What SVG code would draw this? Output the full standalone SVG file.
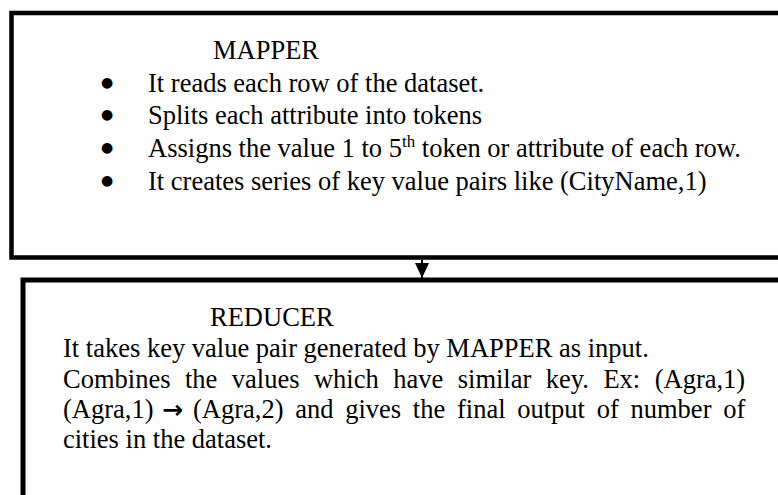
<svg xmlns="http://www.w3.org/2000/svg" width="778" height="495" viewBox="0 0 778 495">
  <style>
    .box { fill: #ffffff; stroke: #000000; }
    .t { font-family: "Liberation Serif", "Times New Roman", serif; font-size: 26.5px; fill: #000000; }
    .bul { font-family: "DejaVu Sans", sans-serif; font-size: 14px; fill: #000000; }
    .arr { font-family: "DejaVu Sans", sans-serif; font-weight: bold; font-size: 25px; fill: #000000; }
  </style>
  <defs>
    <marker id="head" viewBox="0 0 15 14" refX="15" refY="7" markerWidth="15" markerHeight="14" markerUnits="userSpaceOnUse" orient="auto">
      <path d="M0,0 L15,7 L0,14 Z" fill="#000000"/>
    </marker>
  </defs>
  <rect width="778" height="495" fill="#ffffff"/>

  <!-- mapper stage -->
  <g id="mapper">
    <path class="box" d="M790,13 L11.5,13 L11.5,257.5 L790,257.5" stroke-width="4.5"/>
    <text class="t" x="213" y="59">MAPPER</text>
    <text class="bul" x="101" y="87">●</text>
    <text class="t" x="148" y="92">It reads each row of the dataset.</text>
    <text class="bul" x="101" y="119">●</text>
    <text class="t" x="148" y="124">Splits each attribute into tokens</text>
    <text class="bul" x="101" y="152">●</text>
    <text class="t" x="148" y="157">Assigns the value 1 to 5<tspan font-size="17" dy="-10">th</tspan><tspan dy="10"> token or attribute of each row.</tspan></text>
    <text class="bul" x="101" y="185">●</text>
    <text class="t" x="148" y="190">It creates series of key value pairs like (CityName,1)</text>
  </g>

  <!-- reducer stage -->
  <g id="reducer">
    <path class="box" d="M790,280 L23,280 L23,510" stroke-width="5"/>
    <text class="t" x="210" y="326">REDUCER</text>
    <text class="t" x="63" y="357">It takes key value pair generated by MAPPER as input.</text>
    <text class="t" x="63" y="388" word-spacing="7.85">Combines the values which have similar key. Ex: (Agra,1)</text>
    <text class="t" x="63" y="418">(Agra,1)</text>
    <text class="arr" x="162" y="418">→</text>
    <text class="t" x="193" y="418" word-spacing="5.1">(Agra,2) and gives the final output of number of</text>
    <text class="t" x="63" y="448">cities in the dataset.</text>
  </g>

  <!-- flow between stages -->
  <g id="connectors">
    <line x1="422" y1="259.5" x2="422" y2="278" stroke="#000000" stroke-width="2" marker-end="url(#head)"/>
  </g>
</svg>
